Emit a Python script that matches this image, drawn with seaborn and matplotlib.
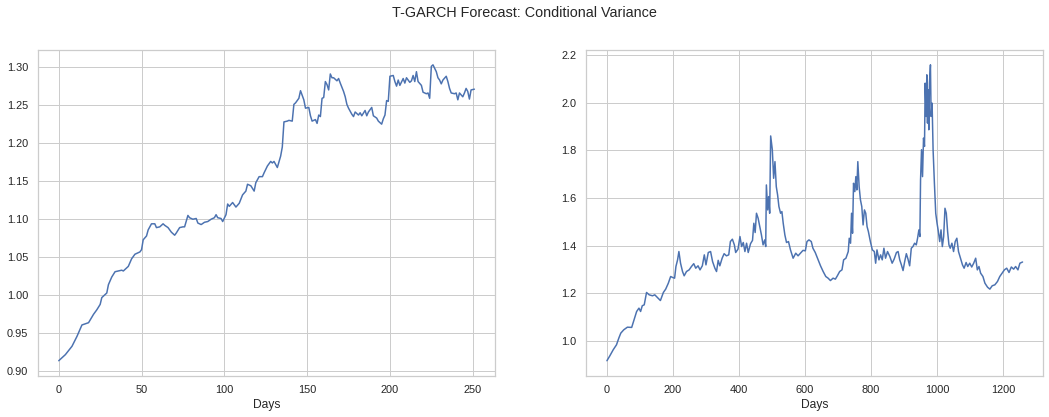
import matplotlib
matplotlib.use("Agg")
import numpy as np
import seaborn as sns
import matplotlib.pyplot as plt

# 1-year forecast (left panel): (day, conditional variance)
points_1y = [
    (0, 0.914), (4, 0.922), (8, 0.933), (11, 0.946), (14, 0.961), (18, 0.964),
    (21, 0.975), (23, 0.981), (25, 0.988), (26, 0.997), (29, 1.003), (30, 1.014),
    (32, 1.024), (34, 1.031), (38, 1.033), (39, 1.032), (42, 1.038), (44, 1.048),
    (46, 1.054), (49, 1.057), (50, 1.060), (51, 1.073), (53, 1.078), (54, 1.086),
    (56, 1.094), (58, 1.094), (59, 1.089), (61, 1.090), (63, 1.094), (64, 1.092),
    (66, 1.089), (68, 1.083), (70, 1.079), (71, 1.082), (73, 1.089), (75, 1.090),
    (76, 1.090), (78, 1.105), (79, 1.102), (81, 1.100), (83, 1.101), (84, 1.095),
    (86, 1.093), (88, 1.096), (90, 1.097), (92, 1.100), (94, 1.102), (95, 1.106),
    (96, 1.102), (98, 1.101), (99, 1.097), (101, 1.106), (102, 1.120), (103, 1.117),
    (105, 1.122), (107, 1.116), (109, 1.121), (111, 1.132), (113, 1.137), (114, 1.146),
    (116, 1.144), (118, 1.137), (119, 1.148), (121, 1.156), (123, 1.156), (124, 1.161),
    (126, 1.170), (128, 1.176), (129, 1.174), (130, 1.176), (132, 1.168), (134, 1.183),
    (135, 1.195), (136, 1.228), (138, 1.229), (139, 1.230), (141, 1.229), (142, 1.251),
    (143, 1.253), (145, 1.259), (146, 1.269), (148, 1.257), (149, 1.246), (151, 1.247),
    (152, 1.236), (153, 1.229), (155, 1.231), (156, 1.226), (157, 1.237), (158, 1.235),
    (159, 1.259), (160, 1.260), (161, 1.281), (162, 1.277), (163, 1.270), (164, 1.291),
    (165, 1.286), (166, 1.286), (168, 1.282), (169, 1.285), (170, 1.279), (172, 1.268),
    (173, 1.261), (174, 1.251), (175, 1.246), (177, 1.238), (178, 1.235), (179, 1.241),
    (181, 1.237), (182, 1.240), (183, 1.236), (185, 1.243), (186, 1.236), (187, 1.241),
    (189, 1.247), (190, 1.236), (192, 1.233), (193, 1.229), (195, 1.225), (196, 1.232),
    (197, 1.237), (198, 1.256), (199, 1.255), (200, 1.288), (202, 1.289), (203, 1.281),
    (204, 1.275), (205, 1.283), (206, 1.276), (208, 1.285), (209, 1.279), (210, 1.286),
    (212, 1.280), (213, 1.282), (214, 1.289), (215, 1.281), (216, 1.294), (217, 1.281),
    (219, 1.276), (220, 1.267), (222, 1.265), (223, 1.266), (224, 1.259), (225, 1.301),
    (226, 1.303), (228, 1.294), (229, 1.286), (230, 1.283), (231, 1.278), (232, 1.283),
    (234, 1.288), (235, 1.281), (236, 1.272), (237, 1.266), (239, 1.265), (240, 1.266),
    (241, 1.257), (242, 1.266), (244, 1.261), (245, 1.266), (246, 1.272), (247, 1.268),
    (248, 1.258), (249, 1.270), (251, 1.271),
]

# 5-year forecast (right panel)
points_5y = [
    (0, 0.916), (9, 0.937), (19, 0.962), (29, 0.983), (36, 1.011), (42, 1.032),
    (51, 1.046), (62, 1.057), (75, 1.056), (83, 1.091), (90, 1.123), (97, 1.137),
    (102, 1.123), (107, 1.147), (113, 1.151), (120, 1.203), (128, 1.193), (138, 1.189),
    (145, 1.193), (155, 1.179), (162, 1.169), (171, 1.203), (178, 1.217), (186, 1.242),
    (193, 1.270), (199, 1.266), (205, 1.263), (209, 1.312), (214, 1.340), (218, 1.375),
    (223, 1.326), (229, 1.291), (234, 1.273), (241, 1.291), (249, 1.298), (256, 1.312),
    (263, 1.324), (269, 1.305), (276, 1.315), (282, 1.298), (289, 1.315), (295, 1.361),
    (300, 1.319), (307, 1.371), (314, 1.375), (320, 1.333), (327, 1.305), (332, 1.291),
    (337, 1.338), (342, 1.315), (349, 1.347), (355, 1.366), (362, 1.357), (369, 1.361),
    (374, 1.417), (380, 1.427), (386, 1.403), (390, 1.371), (397, 1.385), (403, 1.438),
    (408, 1.396), (413, 1.413), (418, 1.375), (423, 1.410), (428, 1.371), (435, 1.408),
    (441, 1.422), (445, 1.494), (449, 1.455), (453, 1.536), (458, 1.515), (463, 1.480),
    (468, 1.445), (473, 1.403), (478, 1.424), (481, 1.396), (483, 1.655), (487, 1.550),
    (490, 1.606), (493, 1.536), (496, 1.861), (501, 1.803), (505, 1.683), (509, 1.753),
    (513, 1.648), (517, 1.613), (521, 1.564), (526, 1.536), (530, 1.543), (534, 1.494),
    (539, 1.445), (544, 1.413), (550, 1.417), (556, 1.382), (564, 1.347), (572, 1.368),
    (579, 1.357), (586, 1.368), (594, 1.380), (601, 1.378), (606, 1.417), (612, 1.424),
    (619, 1.417), (624, 1.389), (631, 1.371), (640, 1.340), (647, 1.315), (655, 1.291),
    (663, 1.270), (670, 1.263), (677, 1.253), (685, 1.263), (692, 1.259), (698, 1.273),
    (705, 1.291), (712, 1.298), (717, 1.340), (724, 1.347), (731, 1.375), (734, 1.431),
    (738, 1.410), (741, 1.536), (744, 1.452), (747, 1.662), (751, 1.627), (754, 1.690),
    (757, 1.634), (760, 1.753), (764, 1.648), (768, 1.592), (772, 1.564), (776, 1.487),
    (780, 1.550), (784, 1.536), (788, 1.480), (792, 1.459), (798, 1.417), (804, 1.382),
    (810, 1.375), (814, 1.326), (818, 1.382), (824, 1.340), (829, 1.361), (834, 1.340),
    (839, 1.389), (844, 1.347), (850, 1.375), (857, 1.354), (864, 1.326), (870, 1.343),
    (877, 1.371), (882, 1.375), (887, 1.340), (892, 1.319), (897, 1.295), (902, 1.333),
    (907, 1.366), (912, 1.343), (917, 1.315), (922, 1.389), (927, 1.396), (932, 1.410),
    (937, 1.403), (941, 1.431), (945, 1.466), (948, 1.438), (950, 1.676), (953, 1.803),
    (956, 1.690), (959, 1.852), (962, 1.817), (964, 2.083), (967, 1.943), (969, 2.118),
    (971, 1.915), (973, 2.055), (975, 1.887), (977, 2.083), (980, 2.160), (982, 1.943),
    (985, 1.999), (988, 1.803), (992, 1.662), (996, 1.536), (1000, 1.494), (1004, 1.459),
    (1008, 1.417), (1012, 1.466), (1016, 1.396), (1020, 1.438), (1024, 1.557), (1028, 1.536),
    (1032, 1.459), (1036, 1.403), (1040, 1.389), (1045, 1.410), (1050, 1.375), (1055, 1.417),
    (1060, 1.431), (1065, 1.375), (1071, 1.347), (1077, 1.319), (1082, 1.305), (1088, 1.329),
    (1093, 1.312), (1099, 1.326), (1105, 1.310), (1111, 1.326), (1117, 1.347), (1122, 1.298),
    (1127, 1.312), (1132, 1.284), (1139, 1.270), (1145, 1.242), (1153, 1.225), (1160, 1.217),
    (1167, 1.231), (1175, 1.235), (1183, 1.249), (1190, 1.270), (1197, 1.284), (1204, 1.298),
    (1211, 1.305), (1218, 1.287), (1225, 1.310), (1232, 1.301), (1238, 1.312), (1245, 1.298),
    (1251, 1.326), (1259, 1.331),
]

days_1y = [d for d, _ in points_1y]
var_1y = [v for _, v in points_1y]
days_5y = [d for d, _ in points_5y]
var_5y = [v for _, v in points_5y]

sns.set_theme(style="whitegrid")
plt.rcParams["font.family"] = ["Liberation Sans", "DejaVu Sans"]

fig, axes = plt.subplots(1, 2, figsize=(1049 / 72, 417 / 72), dpi=72)
fig.subplots_adjust(left=0.0362, right=0.9946, bottom=0.0995, top=0.880, wspace=0.199)

sns.lineplot(x=days_1y, y=var_1y, ax=axes[0], color="#4c72b0")
sns.lineplot(x=days_5y, y=var_5y, ax=axes[1], color="#4c72b0")

for ax in axes:
    ax.set_xlabel("Days")
    ax.set_ylabel("")

axes[0].set_yticks(np.arange(0.90, 1.301, 0.05))
axes[1].set_xticks(np.arange(0, 1201, 200))

fig.suptitle("T-GARCH Forecast: Conditional Variance", y=0.985, va="top")
fig.savefig("out.png", dpi=72)
